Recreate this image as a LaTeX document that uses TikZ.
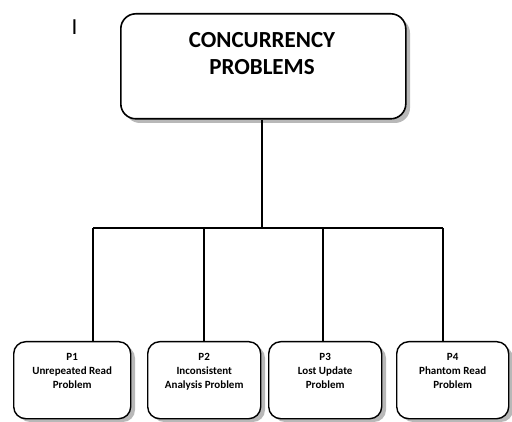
\documentclass[tikz,border=0pt]{standalone}
\usepackage{fontspec}
\setmainfont{Carlito}
\usetikzlibrary{positioning}
\begin{document}
\begin{tikzpicture}[x=1pt,y=-1pt,
  mainbox/.style={draw=black, line width=1.6pt, fill=white, rounded corners=15pt},
  probbox/.style={draw=black, line width=1.4pt, fill=white, rounded corners=12pt},
  conn/.style={draw=black, line width=1.4pt},
  bigtxt/.style={font=\bfseries\fontsize{23}{27}\selectfont, align=center, inner sep=0pt, anchor=north},
  smalltxt/.style={font=\bfseries\fontsize{11}{14}\selectfont, align=center, inner sep=0pt, anchor=north}
]
\useasboundingbox (0,0) rectangle (512,422);
% shadows
\fill[black!28, rounded corners=15pt] (125,18) rectangle (410,123);
\foreach \a/\b in {13/130,147/260,268/381,396/508}{
  \fill[black!28, rounded corners=12pt] (\a+5,346) rectangle (\b+5,422);
}
% top box
\node[mainbox, minimum width=285pt, minimum height=105pt, anchor=north west] (top) at (120,13) {};
\node[bigtxt] (toptxt) at (262,32) {CONCURRENCY\\PROBLEMS};
\node[font=\fontsize{23}{23}\selectfont, inner sep=0pt, anchor=north] (mark) at (74.5,20) {I};
% bottom boxes
\node[probbox, minimum width=117pt, minimum height=77pt, anchor=north west] (p1) at (13,341) {};
\node[probbox, minimum width=113pt, minimum height=77pt, anchor=north west] (p2) at (147,341) {};
\node[probbox, minimum width=113pt, minimum height=77pt, anchor=north west] (p3) at (268,341) {};
\node[probbox, minimum width=112pt, minimum height=77pt, anchor=north west] (p4) at (396,341) {};
\node[smalltxt] (t1) at (p1.north |- 0,353) {P1\\Unrepeated Read\\Problem};
\node[smalltxt] (t2) at (p2.north |- 0,353) {P2\\Inconsistent\\Analysis Problem};
\node[smalltxt] (t3) at (p3.north |- 0,353) {P3\\Lost Update\\Problem};
\node[smalltxt] (t4) at (p4.north |- 0,353) {P4\\Phantom Read\\Problem};
% connectors
\coordinate (hub) at (262,228);
\draw[conn] (top.south -| hub) -- (hub);
\coordinate (h1) at (93,228);
\coordinate (h4) at (443,228);
\draw[conn] (h1) -- (h4);
\draw[conn] (h1) -- (h1 |- p1.north);
\draw[conn] (204,228) -- (204,341);
\draw[conn] (323,228) -- (323,341);
\draw[conn] (h4) -- (h4 |- p4.north);
\end{tikzpicture}
\end{document}
